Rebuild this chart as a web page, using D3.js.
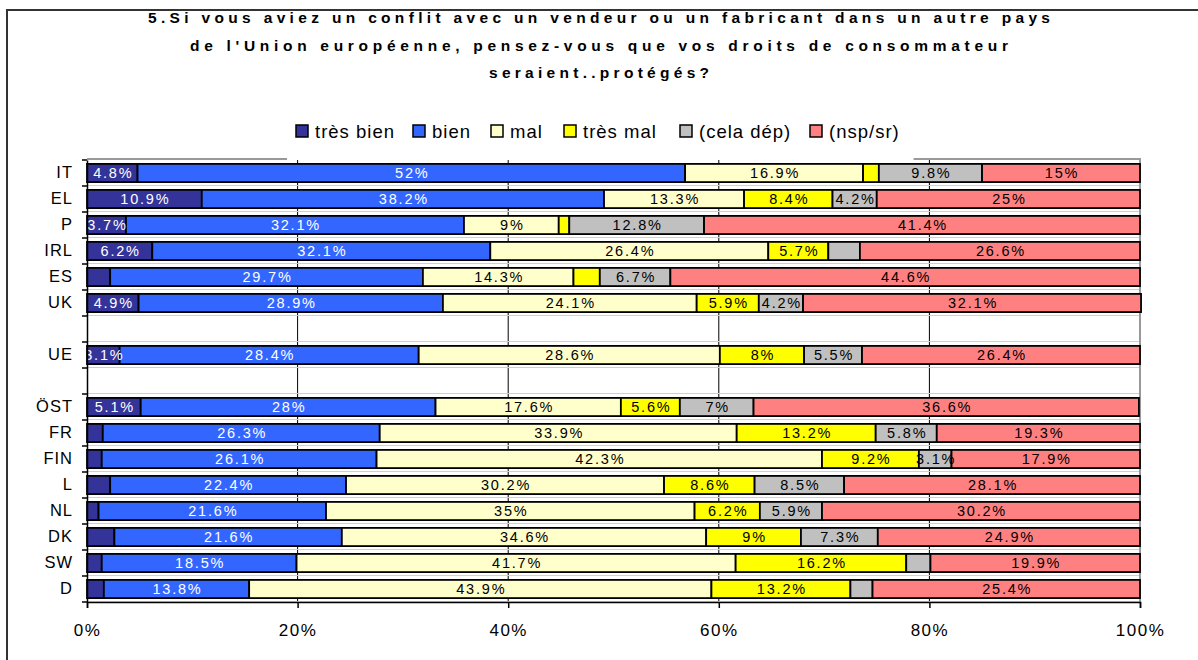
<!DOCTYPE html>
<html>
<head>
<meta charset="utf-8">
<script src="https://cdn.jsdelivr.net/npm/d3@7"></script>
<style>
  body { margin: 0; background: #fff; }
  svg { display: block; font-family: "Liberation Sans", Arial, sans-serif; }
</style>
</head>
<body>
<svg id="chart" width="1198" height="660"></svg>
<script>
// categories top to bottom, null = empty row
var categories = ["IT", "EL", "P", "IRL", "ES", "UK", null, "UE", null, "ÖST", "FR", "FIN", "L", "NL", "DK", "SW", "D"];
var tresBien = [4.8, 10.9, 3.7, 6.2, 2.2, 4.9, null, 3.1, null, 5.1, 1.5, 1.4, 2.2, 1.1, 2.6, 1.4, 1.6];
var bien     = [52, 38.2, 32.1, 32.1, 29.7, 28.9, null, 28.4, null, 28, 26.3, 26.1, 22.4, 21.6, 21.6, 18.5, 13.8];
var mal      = [16.9, 13.3, 9, 26.4, 14.3, 24.1, null, 28.6, null, 17.6, 33.9, 42.3, 30.2, 35, 34.6, 41.7, 43.9];
var tresMal  = [1.5, 8.4, 1.0, 5.7, 2.5, 5.9, null, 8, null, 5.6, 13.2, 9.2, 8.6, 6.2, 9, 16.2, 13.2];
var celaDep  = [9.8, 4.2, 12.8, 3.0, 6.7, 4.2, null, 5.5, null, 7, 5.8, 3.1, 8.5, 5.9, 7.3, 2.3, 2.1];
var nspSr    = [15, 25, 41.4, 26.6, 44.6, 32.1, null, 26.4, null, 36.6, 19.3, 17.9, 28.1, 30.2, 24.9, 19.9, 25.4];

var seriesNames = ["très bien", "bien", "mal", "très mal", "(cela dép)", "(nsp/sr)"];
var xTicks = [0, 20, 40, 60, 80, 100];

var titleLines = [
  "5.Si vous aviez un conflit avec un vendeur ou un fabricant dans un autre pays",
  "de l'Union européenne, pensez-vous que vos droits de consommateur",
  "seraient..protégés?"
];

var colors = ["#333399", "#3366ff", "#ffffcc", "#ffff00", "#c0c0c0", "#ff8080"];
var labelColors = ["#fff", "#fff", "#000", "#000", "#000", "#000"];

var svg = d3.select("#chart");

// outer frame
svg.append("rect")
  .attr("x", 7).attr("y", 10)
  .attr("width", 1300).attr("height", 700)
  .attr("fill", "none").attr("stroke", "#333").attr("stroke-width", 2);

// title
var titleW = [902, 818, 220];
svg.selectAll(".title")
  .data(titleLines)
  .enter().append("text")
  .attr("class", "title")
  .attr("x", 599)
  .attr("y", function(d, i) { return 23 + i * 27.5; })
  .attr("text-anchor", "middle")
  .attr("font-size", 15.5)
  .attr("font-weight", "bold")
  .attr("textLength", function(d, i) { return titleW[i]; })
  .attr("lengthAdjust", "spacing")
  .text(function(d) { return d; });

// legend
var legendX = [296, 413, 491, 564, 680, 810];
var legend = svg.selectAll(".leg")
  .data(seriesNames)
  .enter().append("g")
  .attr("class", "leg")
  .attr("transform", function(d, i) { return "translate(" + legendX[i] + ",125)"; });
legend.append("rect")
  .attr("width", 12).attr("height", 12)
  .attr("fill", function(d, i) { return colors[i]; })
  .attr("stroke", "#000").attr("stroke-width", 1.5);
legend.append("text")
  .attr("x", 19).attr("y", 12.5)
  .attr("font-size", 18.5)
  .attr("letter-spacing", 1)
  .text(function(d) { return d; });

// scales
var x = d3.scaleLinear().domain([0, 100]).range([87, 1140]);
var y = d3.scaleBand().domain(d3.range(categories.length))
  .range([160, 602]).paddingInner(0.3).paddingOuter(0.15);
var step = y.step();
var top0 = y.range()[0];

// gridlines
svg.selectAll(".grid")
  .data([20, 40, 60, 80])
  .enter().append("line")
  .attr("x1", x).attr("x2", x)
  .attr("y1", top0).attr("y2", 602)
  .attr("stroke", "#000").attr("stroke-width", 1);

// light row separators
svg.selectAll(".sep")
  .data(d3.range(1, categories.length + 1))
  .enter().append("line")
  .attr("x1", x(0)).attr("x2", x(100))
  .attr("y1", function(i) { return top0 + i * step - 0.5; })
  .attr("y2", function(i) { return top0 + i * step - 0.5; })
  .attr("stroke", "#d0d0d0").attr("stroke-width", 1);

// partial grey plot border on top, and right edge
svg.selectAll(".topb")
  .data([[0, 19], [78.5, 100]])
  .enter().append("line")
  .attr("x1", function(d) { return x(d[0]); })
  .attr("x2", function(d) { return x(d[1]); })
  .attr("y1", top0 - 1).attr("y2", top0 - 1)
  .attr("stroke", "#999").attr("stroke-width", 2);
svg.append("line")
  .attr("x1", x(100)).attr("x2", x(100))
  .attr("y1", top0 - 2).attr("y2", 602)
  .attr("stroke", "#999").attr("stroke-width", 2);

// stacked data
var keys = ["tresBien", "bien", "mal", "tresMal", "celaDep", "nspSr"];
var rows = [];
categories.forEach(function(c, i) {
  if (c === null) return;
  rows.push({
    idx: i,
    tresBien: tresBien[i], bien: bien[i], mal: mal[i],
    tresMal: tresMal[i], celaDep: celaDep[i], nspSr: nspSr[i]
  });
});
var stacked = d3.stack().keys(keys)(rows);

var layers = svg.selectAll(".layer")
  .data(stacked)
  .enter().append("g")
  .attr("class", "layer")
  .attr("fill", function(d, i) { return colors[i]; });

layers.selectAll("rect")
  .data(function(d) { return d; })
  .enter().append("rect")
  .attr("x", function(d) { return x(d[0]); })
  .attr("y", function(d) { return y(d.data.idx); })
  .attr("width", function(d) { return x(d[1]) - x(d[0]); })
  .attr("height", y.bandwidth())
  .attr("stroke", "#000")
  .attr("stroke-width", 1.8);

// labels, clipped to plot area
svg.append("clipPath").attr("id", "plotClip")
  .append("rect")
  .attr("x", x(0)).attr("y", top0)
  .attr("width", x(100) - x(0)).attr("height", 602 - top0);

var labelG = svg.append("g").attr("clip-path", "url(#plotClip)");
stacked.forEach(function(layer, li) {
  labelG.selectAll(".lab" + li)
    .data(layer.filter(function(d) { return d[1] - d[0] > 3.05; }))
    .enter().append("text")
    .attr("x", function(d) { return x((d[0] + d[1]) / 2) + 1; })
    .attr("y", function(d) { return y(d.data.idx) + y.bandwidth() / 2 + 5; })
    .attr("text-anchor", "middle")
    .attr("font-size", 14.5)
    .attr("letter-spacing", 1.8)
    .attr("fill", labelColors[li])
    .text(function(d) { return +(d[1] - d[0]).toFixed(1) + "%"; });
});

// x axis
var xAxis = svg.append("g")
  .attr("transform", "translate(0,602)")
  .call(d3.axisBottom(x).tickValues(xTicks)
    .tickFormat(function(d) { return d + "%"; })
    .tickSize(6).tickPadding(16));
xAxis.select(".domain").attr("stroke", "#000").attr("stroke-width", 1.5);
xAxis.selectAll(".tick line").attr("stroke", "#000").attr("stroke-width", 1.5);
xAxis.selectAll("text")
  .attr("font-family", "Liberation Sans, Arial, sans-serif")
  .attr("font-size", 17).attr("letter-spacing", 1.5).attr("fill", "#000");

// y axis
var yAxis = svg.append("g")
  .attr("transform", "translate(" + x(0) + ",0)")
  .call(d3.axisLeft(y)
    .tickFormat(function(i) { return categories[i] || ""; })
    .tickSize(0).tickPadding(14));
yAxis.select(".domain").attr("stroke", "#000").attr("stroke-width", 1.5);
yAxis.selectAll("text")
  .attr("font-family", "Liberation Sans, Arial, sans-serif")
  .attr("font-size", 16.5).attr("letter-spacing", 1).attr("fill", "#000");

// y tick marks at the row boundaries
svg.selectAll(".ytick")
  .data(d3.range(categories.length + 1))
  .enter().append("line")
  .attr("x1", x(0) - 5).attr("x2", x(0))
  .attr("y1", function(i) { return top0 + i * step; })
  .attr("y2", function(i) { return top0 + i * step; })
  .attr("stroke", "#000").attr("stroke-width", 1.5);
</script>
</body>
</html>
